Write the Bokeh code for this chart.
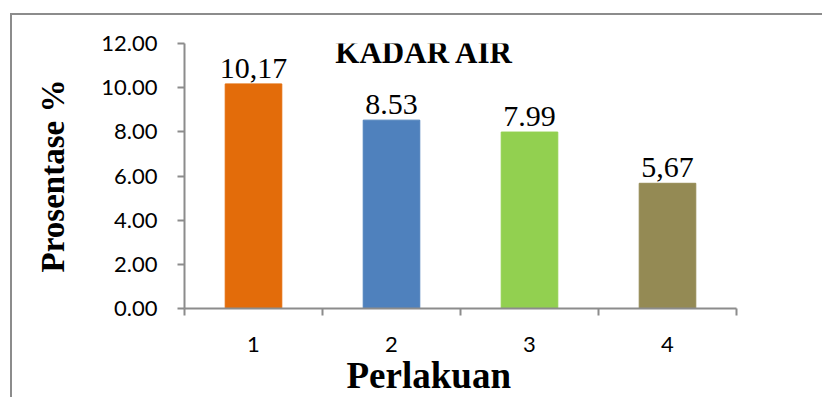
from bokeh.plotting import figure
from bokeh.models import ColumnDataSource, Range1d, FixedTicker, Label, NumeralTickFormatter, Title
from bokeh.core.properties import value
from bokeh.embed import file_html
from bokeh.resources import INLINE

categories = [1, 2, 3, 4]
cat_labels = ["1", "2", "3", "4"]
values = [10.17, 8.53, 7.99, 5.67]
value_labels = ["10,17", "8.53", "7.99", "5,67"]
colors = ["#E36C0A", "#4F81BD", "#92D050", "#948A54"]
y_ticks = [0, 2, 4, 6, 8, 10, 12]

src = ColumnDataSource(dict(x=categories, top=values, lab=value_labels, color=colors))

AX = "#8c8c8c"

p = figure(width=812, height=384, output_backend="svg", toolbar_location=None,
           x_range=Range1d(0.5, 4.5), y_range=Range1d(0, 12),
           min_border_left=172, min_border_top=28, min_border_right=88, min_border_bottom=91)
p.styles = {"border-top": "2px solid #8c8c8c", "border-left": "2px solid #8c8c8c",
            "margin-left": "10px", "margin-top": "13px"}
p.title.visible = False
p.outline_line_color = None
p.grid.visible = False
p.background_fill_color = "white"
p.border_fill_color = "white"

p.vbar(x="x", top="top", width=0.41, bottom=0, color="color", source=src)
p.text(x="x", y="top", text="lab", source=src, text_align="center", text_baseline="bottom",
       y_offset=-6, text_font=value("Liberation Serif"), text_font_size="30px", text_color="#000000")

# axes
xa = p.xaxis[0]
xa.ticker = FixedTicker(ticks=categories, minor_ticks=[c - 0.5 for c in categories] + [categories[-1] + 0.5])
xa.major_label_overrides = {c: l for c, l in zip(categories, cat_labels)}
xa.major_tick_out = 0
xa.major_tick_in = 0
xa.minor_tick_out = 7
xa.minor_tick_in = 0
xa.minor_tick_line_color = AX
xa.minor_tick_line_width = 2
xa.axis_line_color = AX
xa.axis_line_width = 2
xa.major_label_text_font = "Lato"
xa.major_label_text_font_size = "22px"
xa.major_label_text_color = "#000000"
xa.major_label_standoff = 21

ya = p.yaxis[0]
ya.ticker = FixedTicker(ticks=y_ticks)
ya.formatter = NumeralTickFormatter(format="0.00")
ya.minor_tick_line_color = None
ya.major_tick_out = 7
ya.major_tick_in = 0
ya.major_tick_line_color = AX
ya.major_tick_line_width = 2
ya.axis_line_color = AX
ya.axis_line_width = 2
ya.major_label_text_font = "Lato"
ya.major_label_text_font_size = "22px"
ya.major_label_text_color = "#000000"
ya.major_label_standoff = 20
ya.axis_label = "Prosentase %"
ya.axis_label_text_font = "Liberation Serif"
ya.axis_label_text_font_style = "bold"
ya.axis_label_text_font_size = "33px"
ya.axis_label_text_color = "#000000"
ya.axis_label_standoff = 27

p.add_layout(Label(x=2.239, y=11.59, text="KADAR AIR", text_align="center", text_baseline="alphabetic",
                   text_font="Liberation Serif", text_font_style="bold", text_font_size="31px",
                   text_color="#000000"))
p.add_layout(Title(text="Perlakuan", align="left", offset=162, standoff=-3,
                   text_font="Liberation Serif", text_font_style="bold", text_font_size="37px",
                   text_color="#000000"), "below")

open("out.html", "w").write(file_html(p, INLINE))
